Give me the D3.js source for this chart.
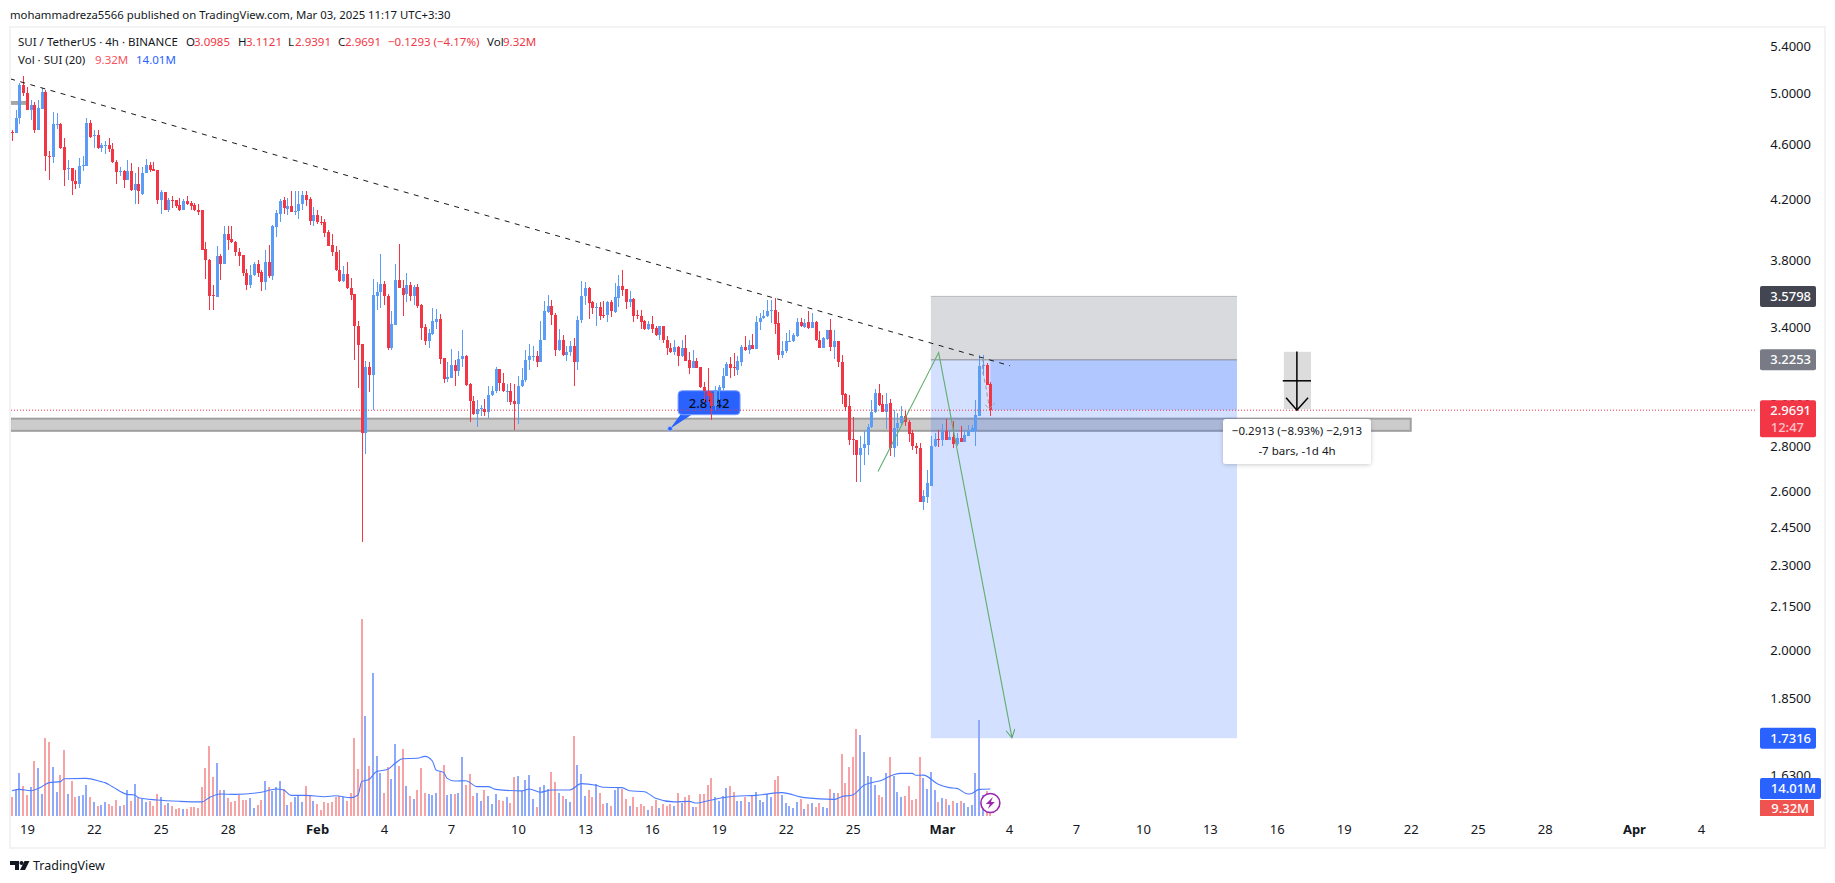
<!DOCTYPE html>
<html>
<head>
<meta charset="utf-8">
<script src="https://cdn.jsdelivr.net/npm/d3@7/dist/d3.min.js"></script>
<style>
html,body{margin:0;padding:0;background:#fff;overflow:hidden}
text{font-family:"Noto Sans",sans-serif}
</style>
</head>
<body>
<svg id="c" width="1835" height="883"></svg>
<script>
const opens=[
4.691,4.685,4.799,5.069,5.005,4.865,4.902,4.706,4.875,5.011,
4.511,4.501,4.749,4.754,4.575,4.414,4.419,4.325,4.304,4.436,
4.438,4.759,4.663,4.668,4.565,4.588,4.590,4.560,4.466,4.391,
4.398,4.337,4.396,4.261,4.308,4.237,4.384,4.446,4.412,4.403,
4.195,4.247,4.123,4.195,4.191,4.161,4.128,4.188,4.177,4.161,
4.128,4.123,3.870,3.802,3.590,3.576,3.828,3.777,3.967,3.935,
3.916,3.853,3.832,3.720,3.650,3.710,3.777,3.728,3.664,3.790,
3.700,4.014,4.101,4.195,4.134,4.155,4.114,4.117,4.164,4.230,
4.202,4.049,4.094,4.047,4.043,3.980,3.897,3.853,3.740,3.674,
3.716,3.632,3.596,3.412,3.312,2.862,3.188,3.148,3.584,3.604,
3.656,3.584,3.291,3.418,3.680,3.632,3.596,3.650,3.580,3.638,
3.532,3.406,3.329,3.366,3.435,3.452,3.237,3.127,3.132,3.199,
3.165,3.228,3.248,3.102,3.014,2.949,2.975,2.975,2.959,3.042,
3.062,3.178,3.107,3.062,3.066,3.014,2.997,3.088,3.119,3.222,
3.246,3.248,3.215,3.330,3.488,3.526,3.474,3.280,3.334,3.253,
3.267,3.298,3.215,3.442,3.580,3.632,3.545,3.514,3.518,3.473,
3.471,3.545,3.488,3.572,3.644,3.624,3.549,3.566,3.473,3.469,
3.436,3.395,3.423,3.399,3.359,3.408,3.334,3.291,3.269,3.296,
3.244,3.291,3.222,3.183,3.219,3.185,3.086,3.062,3.054,2.988,
3.062,3.080,3.139,3.204,3.185,3.173,3.215,3.296,3.276,3.307,
3.285,3.431,3.454,3.465,3.495,3.503,3.429,3.253,3.271,3.323,
3.325,3.352,3.435,3.404,3.431,3.399,3.435,3.334,3.291,3.338,
3.385,3.296,3.329,3.215,3.049,2.989,2.833,2.829,2.760,2.789,
2.806,2.886,2.959,3.056,3.001,2.962,3.004,2.792,2.882,2.905,
2.943,2.914,2.859,2.801,2.792,2.554,2.576,2.623,2.798,2.833,
2.829,2.869,2.829,2.842,2.810,2.838,2.819,2.848,2.866,2.867,
2.943,3.194,3.199,3.0985];
const highs=[
4.706,4.865,5.083,5.144,5.050,4.944,4.931,4.944,5.041,5.027,
4.543,4.844,4.838,4.764,4.645,4.481,4.419,4.407,4.493,4.511,
4.799,4.780,4.706,4.706,4.605,4.618,4.643,4.605,4.481,4.431,
4.407,4.476,4.456,4.384,4.431,4.431,4.486,4.468,4.468,4.407,
4.262,4.247,4.207,4.219,4.195,4.207,4.202,4.223,4.188,4.173,
4.168,4.123,3.916,3.806,3.650,3.887,3.840,4.020,4.020,4.016,
3.922,3.878,3.834,3.744,3.771,3.790,3.802,3.740,3.866,3.897,
4.027,4.123,4.200,4.213,4.207,4.254,4.254,4.254,4.254,4.254,
4.213,4.146,4.123,4.083,4.065,3.993,3.967,3.891,3.866,3.764,
3.790,3.690,3.596,3.440,3.312,3.221,3.215,3.686,3.668,3.840,
3.674,3.596,3.492,3.777,3.903,3.680,3.722,3.668,3.650,3.656,
3.537,3.423,3.395,3.514,3.509,3.475,3.237,3.215,3.285,3.226,
3.271,3.389,3.253,3.105,3.037,3.020,2.996,3.023,3.088,3.088,
3.190,3.178,3.156,3.100,3.105,3.102,3.139,3.182,3.280,3.312,
3.298,3.271,3.440,3.550,3.590,3.560,3.484,3.395,3.361,3.298,
3.325,3.343,3.465,3.674,3.666,3.636,3.554,3.541,3.545,3.550,
3.554,3.560,3.660,3.710,3.740,3.626,3.610,3.570,3.503,3.499,
3.442,3.436,3.469,3.412,3.412,3.412,3.352,3.316,3.334,3.298,
3.334,3.361,3.266,3.280,3.235,3.185,3.112,3.182,3.062,3.088,
3.096,3.182,3.212,3.240,3.262,3.244,3.303,3.355,3.334,3.365,
3.465,3.484,3.503,3.560,3.560,3.570,3.488,3.325,3.370,3.389,
3.370,3.456,3.456,3.450,3.492,3.484,3.436,3.380,3.348,3.389,
3.450,3.385,3.329,3.251,3.054,3.045,2.936,2.829,2.844,2.867,
2.904,3.020,3.076,3.102,3.045,3.054,3.023,2.972,2.956,2.988,
2.964,2.923,2.875,2.813,2.813,2.603,2.692,2.844,2.859,2.875,
2.904,2.927,2.875,2.916,2.859,2.891,2.875,2.899,2.899,3.020,
3.253,3.253,3.208,3.1121];
const lows=[
4.618,4.680,4.754,4.977,4.860,4.780,4.685,4.706,4.875,4.396,
4.337,4.461,4.712,4.560,4.294,4.337,4.226,4.271,4.278,4.396,
4.438,4.643,4.568,4.560,4.536,4.526,4.536,4.461,4.308,4.360,
4.278,4.337,4.254,4.168,4.168,4.230,4.384,4.389,4.396,4.168,
4.101,4.128,4.114,4.139,4.139,4.121,4.128,4.161,4.128,4.119,
4.094,3.866,3.686,3.499,3.503,3.574,3.680,3.777,3.866,3.908,
3.823,3.766,3.700,3.616,3.632,3.700,3.694,3.610,3.620,3.692,
3.676,3.950,4.043,4.101,4.090,4.110,4.094,4.067,4.123,4.150,
4.027,4.016,4.034,4.027,3.950,3.887,3.828,3.730,3.668,3.668,
3.626,3.560,3.226,3.081,2.391,2.765,3.057,2.968,3.503,3.514,
3.532,3.280,3.280,3.418,3.628,3.465,3.545,3.554,3.532,3.511,
3.334,3.307,3.291,3.361,3.395,3.204,3.107,3.112,3.132,3.088,
3.142,3.190,3.091,2.911,2.948,2.886,2.940,2.940,2.931,3.037,
3.054,3.066,3.059,3.009,2.996,2.872,2.904,3.083,3.112,3.173,
3.217,3.190,3.213,3.330,3.484,3.416,3.244,3.271,3.248,3.217,
3.248,3.088,3.170,3.427,3.532,3.450,3.480,3.412,3.442,3.455,
3.431,3.461,3.484,3.518,3.580,3.507,3.518,3.431,3.450,3.393,
3.389,3.389,3.370,3.352,3.334,3.316,3.253,3.262,3.253,3.194,
3.240,3.217,3.149,3.180,3.180,3.078,3.007,3.007,2.923,2.972,
3.020,3.071,3.139,3.131,3.139,3.148,3.194,3.275,3.258,3.284,
3.285,3.389,3.452,3.461,3.427,3.365,3.226,3.235,3.262,3.320,
3.321,3.350,3.404,3.400,3.395,3.397,3.329,3.289,3.289,3.334,
3.271,3.230,3.187,3.001,2.964,2.806,2.760,2.640,2.637,2.715,
2.760,2.883,2.956,2.988,2.959,2.878,2.753,2.748,2.798,2.891,
2.891,2.816,2.783,2.765,2.554,2.521,2.548,2.623,2.795,2.794,
2.798,2.826,2.826,2.788,2.798,2.816,2.819,2.847,2.864,2.798,
2.943,3.148,3.095,2.9391];
const closes=[
4.683,4.799,5.069,5.005,4.865,4.902,4.706,4.881,5.011,4.506,
4.501,4.754,4.754,4.570,4.407,4.419,4.325,4.304,4.436,4.441,
4.759,4.655,4.668,4.565,4.588,4.590,4.560,4.466,4.389,4.398,
4.337,4.396,4.261,4.308,4.254,4.384,4.446,4.403,4.398,4.195,
4.247,4.128,4.195,4.186,4.155,4.128,4.188,4.168,4.155,4.123,
4.114,3.866,3.798,3.584,3.580,3.828,3.777,3.967,3.929,3.912,
3.849,3.828,3.718,3.650,3.710,3.777,3.720,3.664,3.790,3.700,
4.020,4.108,4.188,4.139,4.155,4.114,4.119,4.168,4.230,4.195,
4.049,4.094,4.043,4.040,3.975,3.891,3.849,3.736,3.674,3.716,
3.628,3.590,3.408,3.307,2.862,3.188,3.148,3.590,3.608,3.656,
3.580,3.291,3.423,3.680,3.628,3.590,3.650,3.580,3.638,3.526,
3.400,3.329,3.370,3.440,3.452,3.231,3.127,3.137,3.199,3.165,
3.231,3.248,3.097,3.014,2.949,2.975,2.978,2.959,3.045,3.066,
3.178,3.103,3.062,3.066,3.010,2.997,3.091,3.122,3.226,3.248,
3.248,3.215,3.334,3.492,3.526,3.474,3.280,3.334,3.253,3.269,
3.298,3.215,3.446,3.584,3.632,3.541,3.511,3.518,3.469,3.469,
3.545,3.492,3.576,3.644,3.620,3.549,3.566,3.469,3.465,3.431,
3.393,3.423,3.395,3.361,3.408,3.330,3.287,3.269,3.296,3.244,
3.291,3.219,3.183,3.219,3.182,3.083,3.062,3.037,2.988,3.068,
3.085,3.142,3.204,3.182,3.180,3.219,3.296,3.276,3.307,3.285,
3.435,3.456,3.469,3.497,3.503,3.423,3.253,3.275,3.329,3.329,
3.357,3.435,3.408,3.427,3.399,3.435,3.330,3.291,3.341,3.385,
3.294,3.329,3.212,3.045,2.985,2.829,2.829,2.760,2.792,2.810,
2.890,2.962,3.056,2.996,2.962,3.001,2.792,2.885,2.907,2.943,
2.911,2.856,2.798,2.789,2.554,2.579,2.632,2.801,2.833,2.830,
2.869,2.829,2.842,2.810,2.838,2.819,2.850,2.869,2.882,2.946,
3.194,3.199,3.097,2.9691];
const volumes=[
9.8,13.5,22.3,15.5,10.9,15,28.5,24.9,11.4,40.4,
38.3,25.4,12.4,21.2,34.2,11.4,18.1,9.8,10.4,10.9,
16.1,9.8,7.3,5.2,5.7,7.3,6.2,5.2,8.3,5.2,
5.7,13.5,7.8,16.6,9.3,8.8,7.3,7.8,5.2,11.4,
9.8,5.7,6.7,5.2,3.6,4.1,3.6,3.6,4.7,4.7,
4.1,15,24.9,36.3,20.2,27.5,13.5,13.5,9.3,7.3,
7.8,10.9,8.3,8.3,9.3,4.1,5.7,8.3,18.1,15,
13,15,18.1,14,5.7,7.3,9.8,10.4,7.3,15.5,
10.9,7.8,6.2,3.1,7.3,6.7,7.3,9.8,10.4,9.8,
7.8,11.9,40.4,24.4,102,51.8,25.9,74.1,31.1,22.3,
11.9,25.4,19.2,37.3,25.9,34.7,15.5,10.4,8.8,13.5,
24.9,11.9,11.4,10.9,11.9,22.8,26.4,10.9,11.4,11.4,
11.9,30.6,16.1,21.8,10.4,11.9,7.8,13.5,10.4,6.2,
11.4,8.3,7.8,9.8,6.7,20.2,20.7,13,18.7,21.2,
8.8,4.7,15,16.1,14,22.8,17.6,11.9,10.4,8.8,
7.3,41.5,26.4,21.8,10.4,13.5,9.8,16.6,11.9,6.2,
6.7,5.2,13.5,14.5,14,8.8,5.2,9.8,4.7,6.2,
5.2,3.1,5.2,8.3,4.1,6.2,5.2,6.2,5.2,11.9,
6.7,9.8,10.9,4.7,4.7,11.4,11.4,16.1,19.7,9.8,
7.8,10.4,14.5,15.5,12.4,7.8,7.8,9.8,7.3,10.4,
12.4,8.3,7.3,11.4,9.8,18.7,20.7,10.9,6.7,5.2,
4.1,7.3,8.8,3.6,6.2,6.7,4.7,6.7,4.7,4.1,
14,11.9,11.9,32.1,17.1,25.4,30.6,45.1,42,33.2,
20.7,20.2,16.1,10.9,9.8,22.3,30.6,20.7,12.4,9.8,
10.4,15.5,8.3,8.8,30.6,19.7,14,22.8,13.5,7.3,
9.3,8.8,5.7,7.8,6.7,7.8,6.7,4.7,5.7,22.3,
49.7,10.9,12.8,9.32];
const maBars=[0,2,5,8,10,13,14,20,24,25,27,31,33,34,39,45,51,53,56,60,67,71,73,75,79,84,87,91,93,94,96,98,101,103,105,109,111,113,114,116,117,119,122,125,128,130,137,139,142,145,150,153,157,159,164,166,170,173,178,182,184,188,194,200,207,213,221,223,226,229,234,237,239,242,243,245,249,252,254,257,258,260,263];
const maValues=[13.1,13.8,13.1,15.2,17.3,17.8,19.3,19.5,17.8,17.3,15.2,11.2,10.9,9.5,8.3,7.6,7.3,9.5,11.4,11.2,12.3,14,13.5,10.7,10.7,10,10.5,9.5,10.9,17.8,19,23,24.2,27.3,29.7,29.9,30.9,28.5,23.8,22.6,19.5,18.1,18.3,15.2,15.2,13.8,13,14,12.3,13.5,13.5,16.8,15.9,14.9,14.7,13.1,12.6,9.2,7.3,7.6,6.7,8.3,10.2,10.7,12.1,9.5,8.6,10,10.9,15.9,18.7,21.4,22.1,22.1,21.1,21.2,16.4,14.7,14.3,11.4,11.7,13.8,14.01];
const priceTicks=[5.4,5.0,4.6,4.2,3.8,3.4,3.0,2.8,2.6,2.45,2.3,2.15,2.0,1.85,1.63];
const timeDays=[0,3,6,9,13,16,19,22,25,28,31,34,37,41,44,47,50,53,56,59,62,65,68,72,75];
const timeLabels=["19","22","25","28","Feb","4","7","10","13","16","19","22","25","Mar","4","7","10","13","16","19","22","25","28","Apr","4"];
const boldLabels=["Feb","Mar","Apr"];
const trendBars=[-0.5,268.3], trendPrices=[5.119,3.194];
const pathBars=[232.8,249.1,268.8], pathPrices=[2.684,3.264,1.733];
const measureBars=[261.1,260.8,261.8,262.2,262.7], measurePrices=[3.235,3.173,3.088,3.037,2.986];
const measureHeadBars=[261.6,262.7,264.2], measureHeadPrices=[2.996,2.975,3.004];
const stopPrice=3.5798, entryPrice=3.2253, targetPrice=1.7316, lastPrice=2.9691;
const zoneTop=2.928, zoneBottom=2.870;

const svg=d3.select("#c");
const x=d3.scaleLinear().domain([0,263]).range([12,990.36]);
const y=d3.scaleLog().domain([5.4,1.63]).range([46.3,775]);
const v=d3.scaleLinear().domain([0,100]).range([816,623]);
const timeBars=timeDays.map(d=>d*6+4);
const UP="#5b9cf6",DN="#f23645";

svg.append("rect").attr("x",10).attr("y",27).attr("width",1815).attr("height",821).attr("fill","#fff").attr("stroke","#f2f3f5").attr("stroke-width",2);

const defs=svg.append("defs");
defs.append("clipPath").attr("id","pane").append("rect").attr("x",11).attr("y",28).attr("width",1746).attr("height",795);

const pane=svg.append("g").attr("clip-path","url(#pane)");

pane.append("rect").attr("x",x(-0.5)).attr("width",x(4)-x(-0.5)).attr("y",y(4.936)).attr("height",y(4.904)-y(4.936)).attr("fill","#a6a6a6");
pane.append("rect").attr("x",x(-0.5)).attr("width",x(376)-x(-0.5)).attr("y",y(zoneTop)).attr("height",y(zoneBottom)-y(zoneTop)).attr("fill","#cccccc").attr("stroke","#a0a0a0").attr("stroke-width",2);

const pL=x(247),pR=x(329.3);
pane.append("rect").attr("x",pL).attr("width",pR-pL).attr("y",y(stopPrice)).attr("height",y(entryPrice)-y(stopPrice)).attr("fill","rgba(120,123,134,0.28)");
pane.append("rect").attr("x",pL).attr("width",pR-pL).attr("y",y(entryPrice)).attr("height",y(targetPrice)-y(entryPrice)).attr("fill","rgba(41,98,255,0.2)");
pane.append("rect").attr("x",x(263)).attr("width",pR-x(263)).attr("y",y(entryPrice)).attr("height",y(lastPrice)-y(entryPrice)).attr("fill","rgba(41,98,255,0.2)");
pane.append("line").attr("x1",pL).attr("x2",pR).attr("y1",y(entryPrice)).attr("y2",y(entryPrice)).attr("stroke","#888a94").attr("stroke-width",1);
pane.append("line").attr("x1",pL).attr("x2",pR).attr("y1",y(stopPrice)).attr("y2",y(stopPrice)).attr("stroke","#b8b9bd").attr("stroke-width",1);

const cx=x(176.9),cy=y(2.880);
const call=pane.append("g").attr("transform",`translate(${cx},${cy})`);
call.append("path").attr("d","M0,0 L11,-15 L23,-15 Z").attr("fill","#2962ff");
call.append("rect").attr("x",8).attr("y",-38).attr("width",62).attr("height",24).attr("rx",4).attr("fill","#2962ff").attr("stroke","#7ea0ff").attr("stroke-width",1);
call.append("circle").attr("r",2.4).attr("fill","#2962ff").attr("stroke","#a9c0ff").attr("stroke-width",0.8);
call.append("text").attr("x",39).attr("y",-21).attr("text-anchor","middle").attr("font-size",13).attr("font-weight",500).attr("fill","#0b0f1a").text("2.8142");

pane.append("g").selectAll("rect").data(volumes).join("rect")
 .attr("x",(d,i)=>Math.round(x(i))-1).attr("width",2)
 .attr("y",d=>v(d)).attr("height",d=>v(0)-v(d))
 .attr("fill",(d,i)=>closes[i]>=opens[i]?"#8faafa":"#f7a3a6")
 .attr("shape-rendering","crispEdges");
pane.append("path").datum(maBars).attr("fill","none").attr("stroke","#4a7bff").attr("stroke-width",1.1)
 .attr("d",d3.line().x(b=>x(b)).y((b,i)=>v(maValues[i])).curve(d3.curveMonotoneX));

const cg=pane.append("g").attr("shape-rendering","crispEdges");
cg.selectAll(".w").data(opens).join("rect").attr("class","w")
 .attr("x",(d,i)=>Math.round(x(i))).attr("width",1)
 .attr("y",(d,i)=>y(highs[i])).attr("height",(d,i)=>y(lows[i])-y(highs[i]))
 .attr("fill",(d,i)=>closes[i]>=opens[i]?UP:DN);
cg.selectAll(".b").data(opens).join("rect").attr("class","b")
 .attr("x",(d,i)=>Math.round(x(i))-1).attr("width",3)
 .attr("y",(d,i)=>y(Math.max(opens[i],closes[i])))
 .attr("height",(d,i)=>Math.max(1,Math.abs(y(opens[i])-y(closes[i]))))
 .attr("fill",(d,i)=>closes[i]>=opens[i]?UP:DN);

pane.append("line").attr("x1",11).attr("x2",1757).attr("y1",y(lastPrice)).attr("y2",y(lastPrice)).attr("stroke",DN).attr("stroke-width",1).attr("stroke-dasharray","1 2");

pane.append("line").attr("x1",x(trendBars[0])).attr("y1",y(trendPrices[0])).attr("x2",x(trendBars[1])).attr("y2",y(trendPrices[1])).attr("stroke","#1a1a1a").attr("stroke-width",1).attr("stroke-dasharray","5 5.5");

defs.append("marker").attr("id","gh").attr("viewBox","0 0 10 10").attr("refX",9).attr("refY",5).attr("markerWidth",10).attr("markerHeight",10).attr("markerUnits","userSpaceOnUse").attr("orient","auto")
 .append("path").attr("d","M1,0.5 L9,5 L1,9.5").attr("fill","none").attr("stroke","#5aa469").attr("stroke-width",1);
pane.append("path").datum(pathBars).attr("fill","none").attr("stroke","#5fae6c").attr("stroke-width",1.1).attr("marker-end","url(#gh)")
 .attr("d",d3.line().x(b=>x(b)).y((b,i)=>y(pathPrices[i])));

pane.append("path").datum(measureBars).attr("fill","none").attr("stroke","#9a9a9a").attr("stroke-width",1).attr("stroke-dasharray","4 3")
 .attr("d",d3.line().x(b=>x(b)).y((b,i)=>y(measurePrices[i])));
pane.append("path").datum(measureHeadBars).attr("fill","none").attr("stroke","#9a9a9a").attr("stroke-width",1).attr("stroke-dasharray","4 2")
 .attr("d",d3.line().x(b=>x(b)).y((b,i)=>y(measureHeadPrices[i])));

const aX=x(345.4);
pane.append("rect").attr("x",x(341.9)).attr("width",x(349.2)-x(341.9)).attr("y",y(3.268)).attr("height",y(2.975)-y(3.268)).attr("fill","#dcdcdc");
const ag=pane.append("g").attr("stroke","#000").attr("stroke-width",1.5).attr("fill","none");
ag.append("line").attr("x1",aX).attr("x2",aX).attr("y1",y(3.27)).attr("y2",y(2.969));
ag.append("line").attr("x1",x(341.6)).attr("x2",x(349.2)).attr("y1",y(3.116)).attr("y2",y(3.116));
ag.append("path").attr("d",`M${x(342.5)},${y(3.03)} L${aX},${y(2.969)} L${x(348.4)},${y(3.03)}`);

defs.append("filter").attr("id","sh").attr("x","-10%").attr("y","-20%").attr("width","120%").attr("height","150%")
 .append("feDropShadow").attr("dx",0).attr("dy",1).attr("stdDeviation",2).attr("flood-color","#000").attr("flood-opacity",0.2);
pane.append("rect").attr("x",1223).attr("y",419).attr("width",148).attr("height",45).attr("rx",3).attr("fill","#fff").attr("filter","url(#sh)");
pane.append("text").attr("x",1297).attr("y",435).attr("text-anchor","middle").attr("font-size",11.5).attr("fill","#131722").text("−0.2913 (−8.93%) −2,913");
pane.append("text").attr("x",1297).attr("y",455).attr("text-anchor","middle").attr("font-size",11.5).attr("fill","#131722").text("-7 bars, -1d 4h");

const ay=svg.append("g").attr("transform","translate(1811,0)").call(d3.axisLeft(y).tickValues(priceTicks).tickFormat(d3.format(".4f")).tickSize(0).tickPadding(0));
ay.select(".domain").remove();
ay.selectAll("text").attr("font-size",13).attr("fill","#131722").style("font-family",'"Noto Sans",sans-serif');

const ax=svg.append("g").attr("transform","translate(0,824)").call(d3.axisBottom(x).tickValues(timeBars).tickFormat((b,i)=>timeLabels[i]).tickSize(0).tickPadding(0));
ax.select(".domain").remove();
ax.selectAll("text").attr("font-size",13).attr("fill","#131722").attr("dy","0.8em").style("font-family",'"Noto Sans",sans-serif')
 .attr("font-weight",(b,i)=>boldLabels.includes(timeLabels[i])?700:400);

function tag(yy,h,fill,w){
 svg.append("rect").attr("x",1760).attr("y",yy-h/2).attr("width",w||56).attr("height",h).attr("rx",2).attr("fill",fill);
}
function tagText(xx,yy,t,col,sz){svg.append("text").attr("x",xx).attr("y",yy).attr("text-anchor","end").attr("font-size",sz||13).attr("font-weight",500).attr("fill",col).text(t);}
tag(y(stopPrice),21,"#434651");tagText(1811,y(stopPrice)+4.5,"3.5798","#fff");
tag(y(entryPrice),21,"#787b86");tagText(1811,y(entryPrice)+4.5,"3.2253","#fff");
tag(y(lastPrice)+8.5,37,"#f23645");tagText(1811,y(lastPrice)+4.5,"2.9691","#fff");tagText(1804,y(lastPrice)+21.5,"12:47","#ffc4c9");
tag(y(targetPrice),21,"#2962ff");tagText(1811,y(targetPrice)+4.5,"1.7316","#fff");
tag(v(14.01)-0.5,21,"#2962ff",61);tagText(1816,v(14.01)+4,"14.01M","#fff");
svg.append("rect").attr("x",1760).attr("y",800).attr("width",54).attr("height",16).attr("fill","#ef5350");
tagText(1809,813,"9.32M","#fff");

const ic=svg.append("g").attr("transform",`translate(${x(263)},803)`);
ic.append("circle").attr("r",9.5).attr("fill","#fff").attr("stroke","#9c27b0").attr("stroke-width",1.6);
ic.append("path").attr("d","M2.5,-6 L-4.5,1 L-0.5,1 L-2.5,6 L4.5,-1 L0.5,-1 Z").attr("fill","#9c27b0");

const t=(xx,yy,s,col,sz)=>svg.append("text").attr("x",xx).attr("y",yy).attr("font-size",sz).attr("fill",col).text(s);
t(10,19,"mohammadreza5566 published on TradingView.com, Mar 03, 2025 11:17 UTC+3:30","#131722",11.35);
t(18,46,"SUI / TetherUS · 4h · BINANCE","#131722",11.5);
t(186,46,"O","#131722",11.5);t(194,46,"3.0985","#f23645",11.5);
t(238,46,"H","#131722",11.5);t(246,46,"3.1121","#f23645",11.5);
t(288,46,"L","#131722",11.5);t(295,46,"2.9391","#f23645",11.5);
t(338,46,"C","#131722",11.5);t(345,46,"2.9691","#f23645",11.5);
t(388,46,"−0.1293 (−4.17%)","#f23645",11.5);
t(487,46,"Vol","#131722",11.5);t(503,46,"9.32M","#f23645",11.5);
t(18,64,"Vol · SUI (20)","#131722",11.5);
t(95,64,"9.32M","#f7525f",11.5);t(136,64,"14.01M","#2962ff",11.5);
t(33,870,"TradingView","#131722",12.5);
const logo=svg.append("g").attr("fill","#131722");
logo.append("path").attr("d","M10,861 H19 V870 H15 V865 H10 Z");
logo.append("circle").attr("cx",21.5).attr("cy",863).attr("r",2);
logo.append("path").attr("d","M24.5,861 H29.5 L25,870 H20 Z");
</script>
</body>
</html>
